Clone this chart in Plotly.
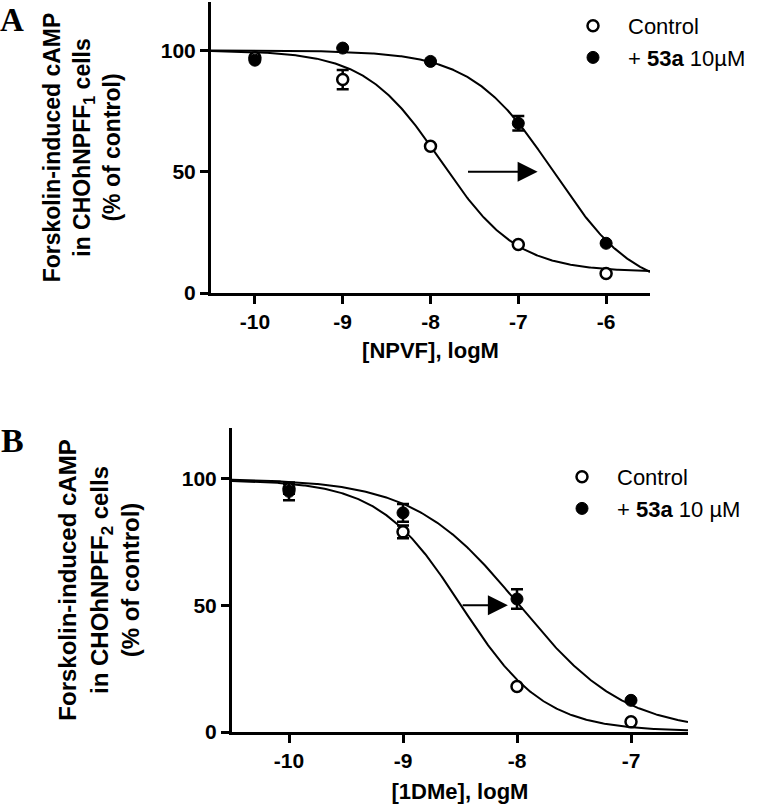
import numpy as np
import plotly.graph_objects as go

# ---------------- Data: panel A (NPFF1, NPVF) ----------------
a_logx = [-10, -9, -8, -7, -6]
a_ctrl = [97, 88, 60.5, 20, 8]
a_ctrl_err = [0, 4, 0, 0, 0]
a_53a = [96, 101, 95.5, 70, 20.5]
a_53a_err = [0, 0, 0, 3, 0]
# 4-parameter logistic fit parameters (top, bottom, logEC50, hill)
a_ctrl_fit = (100, 8.7, -7.88, 1.0)
a_53a_fit = (100, 0.0, -6.60, 0.93)
a_arrow = (-7.59, -6.78, 50)
a_xticks = [-10, -9, -8, -7, -6]
a_xticklabels = ["-10", "-9", "-8", "-7", "-6"]

# ---------------- Data: panel B (NPFF2, 1DMe) ----------------
b_logx = [-10, -9, -8, -7]
b_ctrl = [96, 79, 18, 4]
b_ctrl_err = [2, 2.5, 0, 0]
b_53a = [95, 86.5, 52.5, 12.5]
b_53a_err = [3.5, 3.5, 3.8, 0]
b_ctrl_fit = (99.5, 0.3, -8.49, 1.2)
b_53a_fit = (100, 0.0, -7.98, 0.94)
b_arrow = (-8.49, -8.08, 50)
b_xticks = [-10, -9, -8, -7]
b_xticklabels = ["-10", "-9", "-8", "-7"]

a_xrange = [-10.5, -5.5]
b_xrange = [-10.5, -6.5]
y_ticks = [0, 50, 100]

FONT = "Arial, Liberation Sans, sans-serif"


def logistic(x, p):
    top, bottom, c, h = p
    return bottom + (top - bottom) / (1 + 10 ** (h * (x - c)))


fig = go.Figure()


def add_panel(xa, ya, legend, xrange_, logx, ctrl, ctrl_err, trt, trt_err,
              ctrl_fit, trt_fit, trt_name):
    xs = np.linspace(xrange_[0], xrange_[1], 400)
    for p in (ctrl_fit, trt_fit):
        fig.add_trace(go.Scatter(x=xs, y=logistic(xs, p), mode="lines",
                                 line=dict(color="black", width=2),
                                 xaxis=xa, yaxis=ya, showlegend=False,
                                 hoverinfo="skip"))
    fig.add_trace(go.Scatter(
        x=logx, y=ctrl, mode="markers", name="Control",
        marker=dict(symbol="circle", size=11, color="white",
                    line=dict(color="black", width=2.5)),
        error_y=dict(type="data", array=ctrl_err, color="black",
                     thickness=2.5, width=6),
        xaxis=xa, yaxis=ya, legend=legend))
    fig.add_trace(go.Scatter(
        x=logx, y=trt, mode="markers", name=trt_name,
        marker=dict(symbol="circle", size=12, color="black",
                    line=dict(color="black", width=1)),
        error_y=dict(type="data", array=trt_err, color="black",
                     thickness=2.5, width=6),
        xaxis=xa, yaxis=ya, legend=legend))


add_panel("x", "y", "legend", a_xrange, a_logx, a_ctrl, a_ctrl_err,
          a_53a, a_53a_err, a_ctrl_fit, a_53a_fit,
          "+ <b>53a</b> 10µM")
add_panel("x2", "y2", "legend2", b_xrange, b_logx, b_ctrl, b_ctrl_err,
          b_53a, b_53a_err, b_ctrl_fit, b_53a_fit,
          "+ <b>53a</b> 10 µM")

W, H = 757, 805


def px_x(p):
    return p / W


def px_y(p):
    return 1 - p / H


axis_common = dict(showline=True, linewidth=3, linecolor="black",
                   ticks="outside", ticklen=8, tickwidth=3, tickcolor="black",
                   showgrid=False, zeroline=False,
                   tickfont=dict(family=FONT, size=21, color="black", weight="bold"))

fig.update_layout(
    width=W, height=H,
    margin=dict(l=0, r=0, t=0, b=0, autoexpand=False),
    paper_bgcolor="white", plot_bgcolor="white",
    xaxis=dict(domain=[px_x(211), px_x(650)], range=a_xrange, anchor="y",
               tickvals=a_xticks, ticktext=a_xticklabels,
               title=dict(text="[NPVF], logM", standoff=11,
                          font=dict(family=FONT, size=22, color="black", weight="bold")),
               **axis_common),
    yaxis=dict(domain=[px_y(293), px_y(2)], range=[0, 120], anchor="x",
               tickvals=y_ticks,
               title=dict(text="Forskolin-induced cAMP<br>in CHOhNPFF<sub>1</sub> cells<br>(% of control)",
                          standoff=34,
                          font=dict(family=FONT, size=23, color="black", weight="bold")),
               **axis_common),
    xaxis2=dict(domain=[px_x(232), px_x(688)], range=b_xrange, anchor="y2",
                tickvals=b_xticks, ticktext=b_xticklabels,
                title=dict(text="[1DMe], logM", standoff=13,
                           font=dict(family=FONT, size=22, color="black", weight="bold")),
                **axis_common),
    yaxis2=dict(domain=[px_y(732), px_y(428)], range=[0, 120], anchor="x2",
                tickvals=y_ticks,
                title=dict(text="Forskolin-induced cAMP<br>in CHOhNPFF<sub>2</sub> cells<br>(% of control)",
                           standoff=36,
                           font=dict(family=FONT, size=24, color="black", weight="bold")),
                **axis_common),
    legend=dict(x=px_x(558), y=px_y(5), xanchor="left", yanchor="top",
                bgcolor="rgba(0,0,0,0)", itemwidth=60,
                font=dict(family=FONT, size=22, color="black")),
    legend2=dict(x=px_x(547), y=px_y(456), xanchor="left", yanchor="top",
                 bgcolor="rgba(0,0,0,0)", itemwidth=60,
                 font=dict(family=FONT, size=22, color="black")),
    showlegend=True,
)

# Shift arrows
for (x0, x1, yv), xr, yr in ((a_arrow, "x", "y"), (b_arrow, "x2", "y2")):
    fig.add_annotation(x=x1, y=yv, ax=x0, ay=yv, xref=xr, yref=yr,
                       axref=xr, ayref=yr, text="", showarrow=True,
                       arrowhead=2, arrowsize=2, arrowwidth=2,
                       arrowcolor="black")

# Panel letters
fig.add_annotation(x=0, y=1, xref="paper", yref="paper", xanchor="left",
                   yanchor="top", text="<b>A</b>", showarrow=False, xshift=-2,
                   font=dict(family="Times New Roman, Liberation Serif, serif",
                             size=33, color="black"))
fig.add_annotation(x=0, y=px_y(422), xref="paper", yref="paper",
                   xanchor="left", yanchor="top", text="<b>B</b>",
                   showarrow=False, yshift=2, xshift=-1,
                   font=dict(family="Times New Roman, Liberation Serif, serif",
                             size=34, color="black"))

# remove the default page margin so the figure sits at the window's corner
fig.write_html("out.html", config={"displayModeBar": False},
               post_script="document.body.style.margin='0';")
